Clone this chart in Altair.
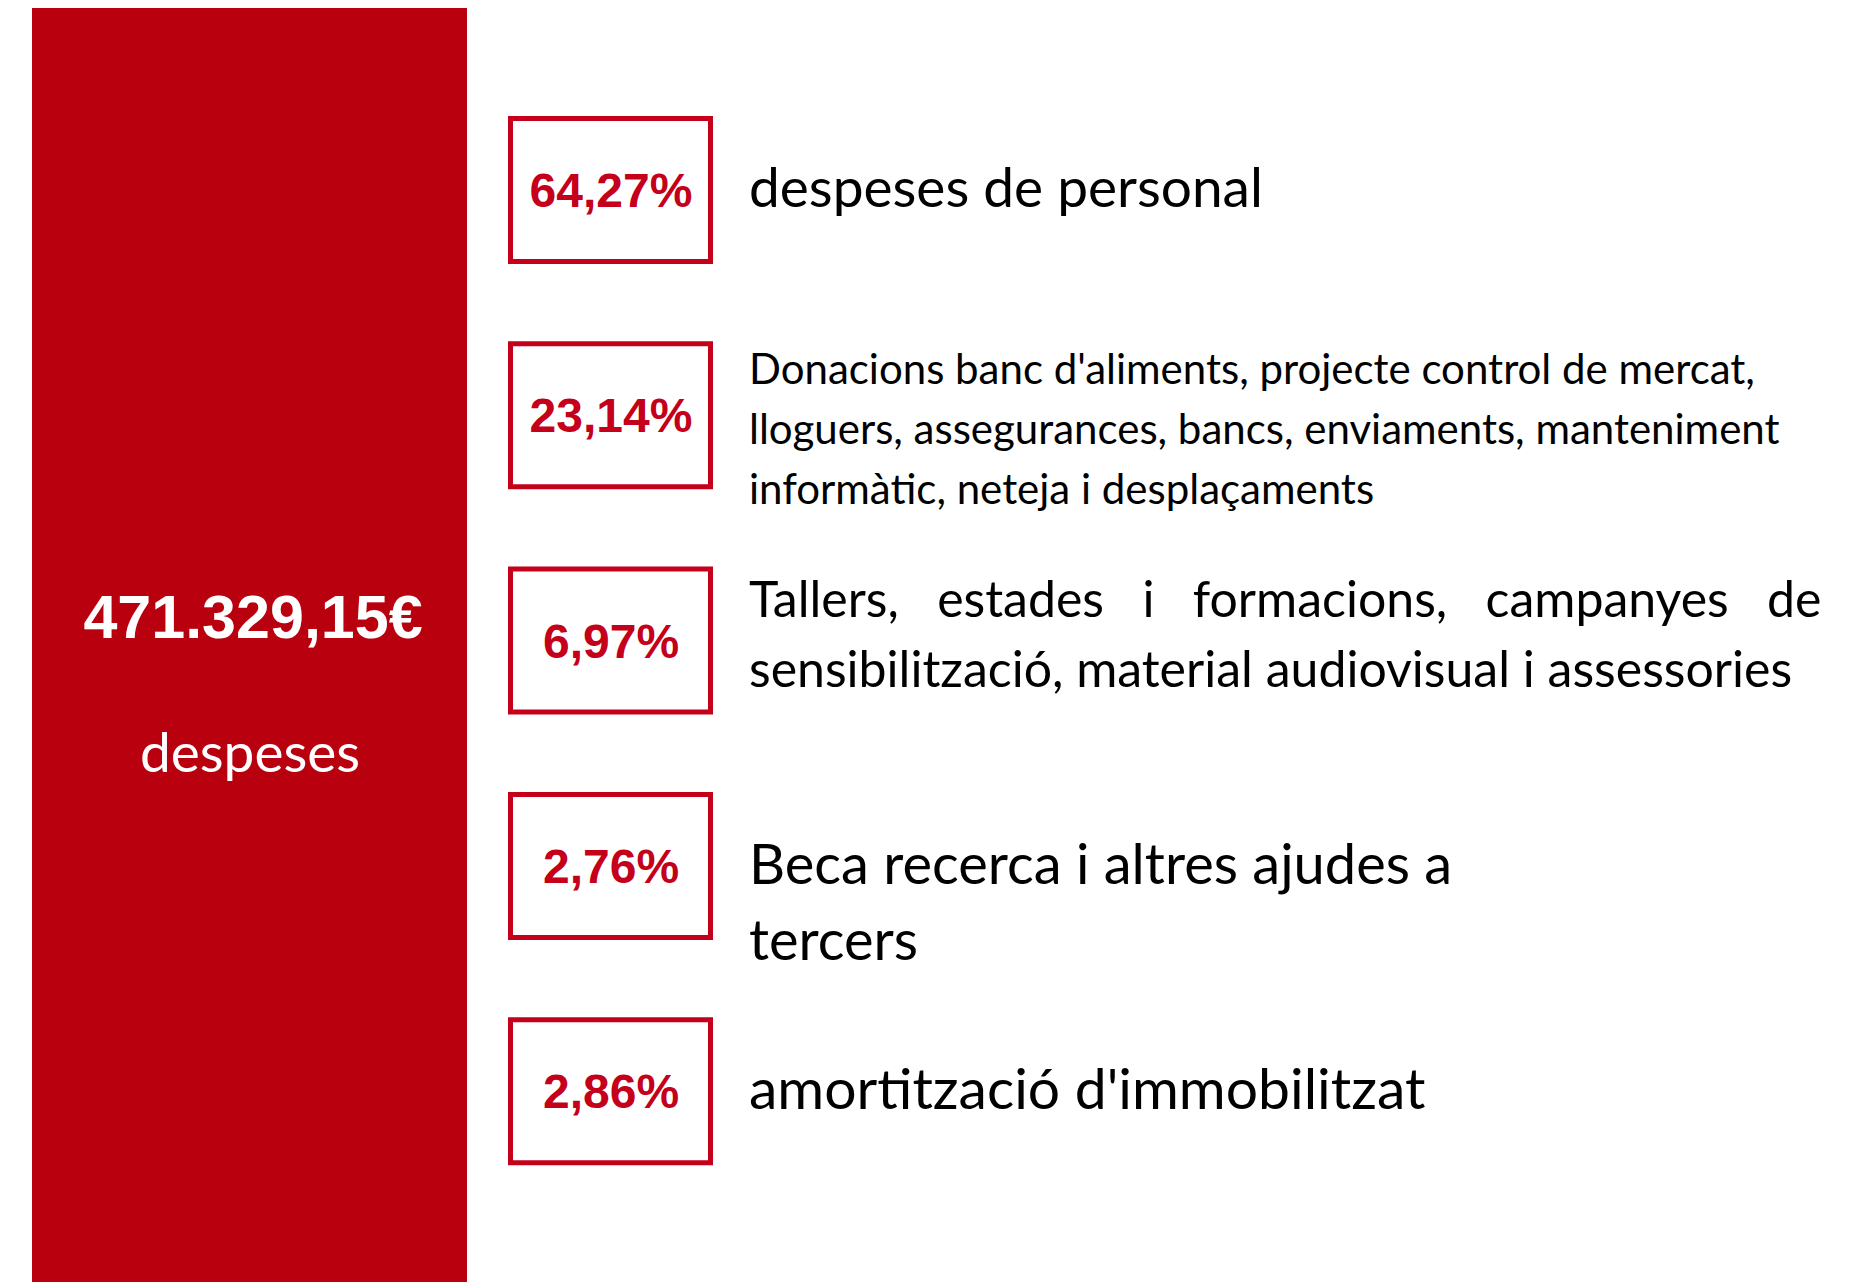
import altair as alt
import pandas as pd

# ---- data ----
categories = ["personal", "donacions", "tallers", "beca", "amortitzacio"]
percent_values = [64.27, 23.14, 6.97, 2.76, 2.86]
percent_labels = ["64,27%", "23,14%", "6,97%", "2,76%", "2,86%"]
descriptions = [
    ["despeses de personal"],
    ["Donacions banc d'aliments, projecte control de mercat,",
     "lloguers, assegurances, bancs, enviaments, manteniment",
     "informàtic, neteja i desplaçaments"],
    ["Tallers,\u00a0\u00a0 estades\u00a0\u00a0 i\u00a0\u00a0 formacions,\u00a0\u00a0 campanyes\u00a0\u00a0 de",
     "sensibilització, material audiovisual i assessories"],
    ["Beca recerca i altres ajudes a", "tercers"],
    ["amortització d'immobilitzat"],
]
total_label = ["471.329,15€"]
total_caption = ["despeses"]

rows = pd.DataFrame({
    "category": categories,
    "value": percent_values,
    "pct": percent_labels,
    "desc": descriptions,
})
summary = pd.DataFrame({"total": total_label, "caption": total_caption})

W, H = 1848, 1274
PANEL = "#B9000F"
RED = "#C4001A"

yenc = alt.Y(
    "category:N", sort=categories, axis=None,
    scale=alt.Scale(range=[110.5, 1154.7], paddingInner=0.3653, paddingOuter=0),
)

panel = alt.Chart(summary).mark_rect(color=PANEL).encode(
    x=alt.value(24), x2=alt.value(459), y=alt.value(-1), y2=alt.value(H)
)
total = alt.Chart(summary).mark_text(
    font="Liberation Sans", fontWeight="bold", fontSize=61, color="white",
    align="center", baseline="middle"
).encode(x=alt.value(245), y=alt.value(612), text="total:N")
caption = alt.Chart(summary).mark_text(
    font="Lato", fontSize=55, color="white", align="center", baseline="alphabetic"
).encode(x=alt.value(242), y=alt.value(764), text="caption:N")

boxes = alt.Chart(rows).mark_rect(
    fill="white", stroke=RED, strokeWidth=5
).encode(x=alt.value(502.5), x2=alt.value(702.5), y=yenc)

pcts = alt.Chart(rows).mark_text(
    font="Liberation Sans", fontWeight="bold", fontSize=48, color=RED,
    align="center", baseline="middle", dy=3
).encode(x=alt.value(603), y=yenc, text="pct:N")


def desc_layer(cat, size, lh, dy):
    return alt.Chart(rows).transform_filter(
        alt.datum.category == cat
    ).mark_text(
        font="Lato", fontSize=size, lineHeight=lh, color="black",
        align="left", baseline="middle", dy=dy
    ).encode(x=alt.value(741), y=yenc, text="desc")


descs = [
    desc_layer("personal", 55, 60, 0),
    desc_layer("donacions", 42, 60, -44),
    desc_layer("tallers", 50, 70, -39),
    desc_layer("beca", 56, 76, 1),
    desc_layer("amortitzacio", 57, 60, 1),
]

chart = alt.layer(panel, total, caption, boxes, pcts, *descs).properties(
    width=W, height=H, padding=0, autosize=alt.AutoSizeParams(type="none")
).configure_view(stroke=None)

chart.save("out.html", embed_options={"renderer": "svg", "actions": False})
